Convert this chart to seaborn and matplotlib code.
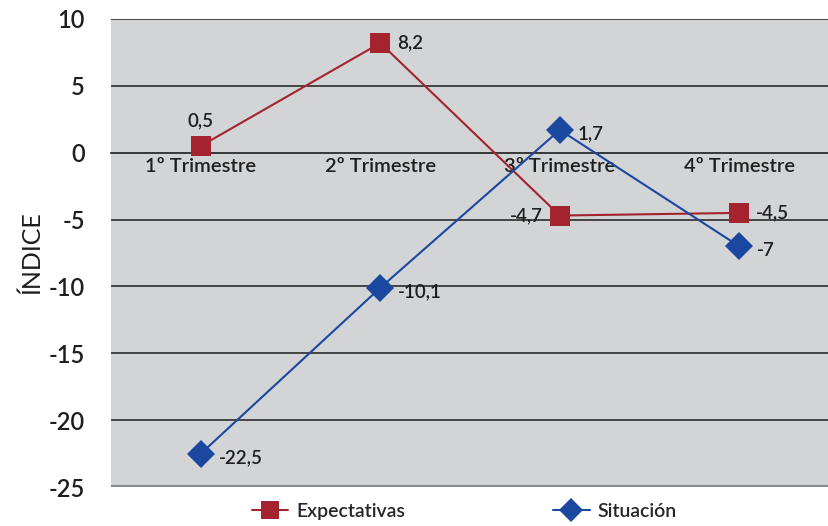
import numpy as np
import pandas as pd
import matplotlib
matplotlib.use('Agg')
import matplotlib.pyplot as plt
import seaborn as sns

# data
trimestres = ['1º Trimestre', '2º Trimestre', '3º Trimestre', '4º Trimestre']
expectativas = [0.5, 8.2, -4.7, -4.5]
situacion = [-22.5, -10.1, 1.7, -7]
exp_labels = ['0,5', '8,2', '-4,7', '-4,5']
sit_labels = ['-22,5', '-10,1', '1,7', '-7']

df = pd.DataFrame({
    'pos': list(range(4)) * 2,
    'valor': expectativas + situacion,
    'serie': ['Expectativas'] * 4 + ['Situación'] * 4,
})

sns.set_style('white')
plt.rcParams['font.family'] = ['Lato', 'DejaVu Sans']
plt.rcParams['font.weight'] = 'semibold'
plt.rcParams['axes.unicode_minus'] = False

red = '#A3232E'
blue = '#1A47A0'
txt = '#1e1e1e'

fig = plt.figure(figsize=(8.29, 5.26), dpi=100)
ax = fig.add_axes([0.134, 0.074, 0.866, 0.890])
ax.set_facecolor('#D3D4D6')

sns.lineplot(data=df, x='pos', y='valor', hue='serie', style='serie',
             palette={'Expectativas': red, 'Situación': blue},
             markers={'Expectativas': 's', 'Situación': 'D'},
             dashes=False, markersize=14, markeredgewidth=0, linewidth=1.5,
             ax=ax, legend=True, zorder=3)

ax.set_xlim(-0.5, 3.5)
ax.set_ylim(-25, 10)
ax.set_yticks(np.arange(-25, 11, 5))
ax.tick_params(axis='y', length=5, width=1.2, color='#444444', pad=14,
               labelsize=17, labelcolor=txt)
for y in np.arange(-20, 11, 5):
    ax.axhline(y, color='#3a3a3a', lw=1.3, zorder=1)
ax.axhline(-25, color='#8a8a8a', lw=3, zorder=1)

# category axis sits on the zero line
ax.spines['bottom'].set_position(('data', 0))
ax.spines['bottom'].set_color('#3a3a3a')
ax.spines['bottom'].set_linewidth(1.3)
for s in ['top', 'right', 'left']:
    ax.spines[s].set_visible(False)
ax.set_xticks(range(4))
ax.set_xticklabels(trimestres, fontsize=14.5, color=txt)
ax.set_xticks([0.5, 1.5, 2.5], minor=True)
ax.tick_params(axis='x', which='major', length=0, pad=4)
ax.tick_params(axis='x', which='minor', length=8, direction='inout',
               color='#999999', width=1.2)
ax.set_xlabel('')
ax.set_ylabel('ÍNDICE', fontsize=18, color=txt, labelpad=4)

# data labels
lab = dict(fontsize=13.5, color=txt, zorder=5)
ax.annotate(exp_labels[0], (0, expectativas[0]), xytext=(0, 12),
            textcoords='offset points', ha='center', va='bottom', **lab)
ax.annotate(exp_labels[1], (1, expectativas[1]), xytext=(12, 0),
            textcoords='offset points', ha='left', va='center', **lab)
ax.annotate(exp_labels[2], (2, expectativas[2]), xytext=(-12, 0),
            textcoords='offset points', ha='right', va='center', **lab)
ax.annotate(exp_labels[3], (3, expectativas[3]), xytext=(12, 0),
            textcoords='offset points', ha='left', va='center', **lab)
for i, t in enumerate(sit_labels):
    ax.annotate(t, (i, situacion[i]), xytext=(13, -3),
                textcoords='offset points', ha='left', va='center', **lab)

handles, labels = ax.get_legend_handles_labels()
ax.get_legend().remove()
fig.legend(handles, labels, loc='center', bbox_to_anchor=(0.56, 0.028),
           ncol=2, frameon=False, fontsize=14, columnspacing=7.6,
           handlelength=1.9, handletextpad=0.4, markerscale=0.9)

fig.savefig('out.png', dpi=100)
